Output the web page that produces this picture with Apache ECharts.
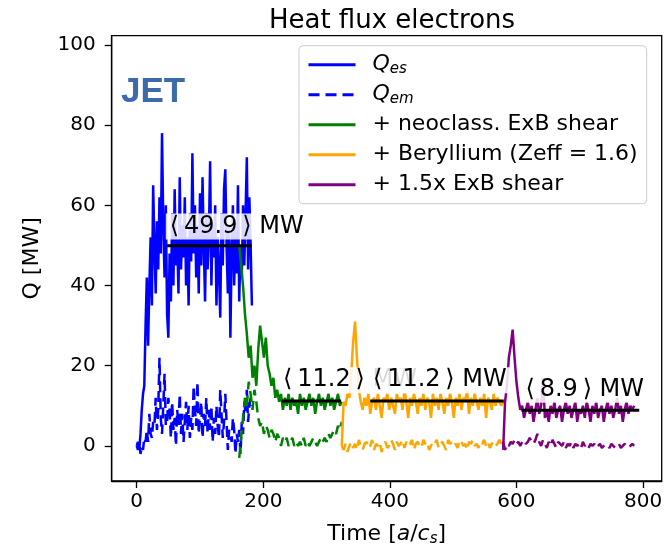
<!DOCTYPE html>
<html>
<head>
<meta charset="utf-8">
<script src="https://cdn.jsdelivr.net/npm/echarts@6/dist/echarts.min.js"></script>
<style>
  html, body { margin: 0; padding: 0; background: #fff; }
  #chart { width: 669px; height: 552px; }
</style>
</head>
<body>
<div id="chart"></div>
<script>
  // ticks
  const tickX = [0, 200, 400, 600, 800]
  const tickY = [0, 20, 40, 60, 80, 100]

  // blue run (t = 0 .. 182, every 2)
  const blueStart = 0, blueStep = 2
  const blueQes = [0, 1, -1, 3, 9, 13, 15, 30, 42, 25,
    40, 52, 35, 65, 50, 38, 56, 44, 62, 48,
    78, 55, 42, 60, 33, 27, 48, 36, 58, 40,
    64, 45, 52, 38, 67, 44, 55, 47, 62, 40,
    52, 35, 58, 46, 73, 48, 60, 42, 55, 38,
    63, 45, 67, 50, 36, 58, 44, 52, 71, 40,
    55, 47, 60, 35, 52, 44, 32, 58, 45, 64,
    69, 50, 38, 55, 27, 48, 60, 40, 54, 43,
    65, 36, 50, 42, 60, 45, 58, 72, 44, 62,
    50, 35]
  const blueQem = [0, -1, 1, -2, 0, -1, 2, 1, 4, 1,
    8, 3, 2, 6, 5, 12, 4, 9, 22, 7,
    3, 10, 18, 5, 6, 12, 9, 2, 11, 4,
    7, 0, 9, 5, 13, 3, 8, 1, 6, 11,
    4, 10, 2, 7, 4, 15, 9, 5, 16, 3,
    7, 11, 2, 8, 5, 12, 3, 9, 4, 10,
    1, 7, 3, 10, 5, 2, 14, 8, 2, 6,
    13, 6, -1, 4, 3, 1, 7, 4, -2, 3,
    1, 4, -2, 6, 3, 11, 8, 14, 6, 10,
    12, 10]

  // green run: + neoclass. ExB shear (t = 162 .. 324)
  const greenStart = 162, greenStep = 3
  const greenQes = [50, 45, 40, 33, 28, 22, 25, 17, 20, 15, 24, 30, 26, 22, 27, 20, 18, 15, 17, 12,
    14, 11, 13, 9, 12, 10, 13, 9, 12, 10, 11, 8, 13, 10, 12, 9, 11, 13, 10, 12,
    8, 11, 13, 10, 12, 9, 11, 13, 10, 12, 9, 11, 13, 10, 11]
  const greenQem = [-3, 2, 7, 12, 10, 16, 13, 9, 14, 11, 7, 5, 6, 3, 5, 4, 2, 4, 3, 1,
    3, 2, 0, 2, 1, 2, 0, 1, 2, 0, 1, 0, 1, 0, 2, 0, 1, 0, 1, 2,
    1, 0, 1, 2, 1, 2, 1, 3, 2, 3, 4, 3, 5, 4, 6]

  // orange run: + Beryllium (t = 324 .. 579)
  const orangeStart = 324, orangeStep = 3
  const orangeQes = [0, 11, 10, 13, 12, 18, 26, 31, 22, 14, 11, 9, 12, 10, 13, 8, 11, 12, 9, 13,
    10, 7, 12, 11, 13, 9, 12, 10, 8, 13, 11, 12, 9, 14, 11, 7, 12, 10, 13, 11,
    8, 12, 10, 13, 9, 12, 11, 7, 13, 10, 12, 9, 13, 11, 8, 12, 10, 13, 11, 7,
    12, 10, 13, 9, 12, 11, 14, 8, 12, 10, 13, 11, 9, 12, 10, 13, 7, 12, 11, 9,
    13, 10, 12, 11, 10, 11]
  const orangeQem = [0, -1, 0.5, -1.5, 0, 1, -0.5, 0.5, -1, 1.5, 0, -1, 0.5, 1, -0.5, 0, 1.5, -1, 0.5, 0,
    1, -1.5, 0.5, 1, -0.5, 0, 1.5, 0.5, -1, 1, 0, 0.5, 1.5, -0.5, 1, 0, 0.5, 1.5, -1, 0.5,
    1, 0, -0.5, 1.5, 0.5, 1, -1, 0, 1, 0.5, 1.5, -0.5, 0.5, 1, 0, -1, 1.5, 0.5, 1, 0,
    0.5, -0.5, 1.5, 1, 0, 0.5, -1, 1, 0.5, 1.5, 0, 0.5, -0.5, 1, 0.5, 1.5, 0, 1, -0.5, 0.5,
    1, 0, 0.5, 1.5, 0.5, 1]

  // purple run: + 1.5x ExB shear (t = 579 .. 786)
  const purpleStart = 579, purpleStep = 3
  const purpleQes = [-1, 11, 15, 22, 25, 29, 22, 16, 12, 9, 10, 7, 9, 11, 8, 10, 6, 9, 12, 8,
    10, 17, 7, 9, 6, 10, 8, 11, 7, 9, 10, 6, 9, 11, 8, 10, 7, 9, 11, 6,
    9, 8, 10, 7, 11, 9, 6, 10, 8, 11, 7, 9, 10, 6, 9, 11, 8, 10, 7, 9,
    12, 8, 10, 6, 9, 11, 8, 10, 9, 10]
  const purpleQem = [1, -1, 0.5, 0, 1, 0.5, 1.5, 0.5, 1, 0, 1, 1.5, 0.5, 1, 2, 1, 0.5, 1.5, 3, 1,
    0, 1.5, 0.5, -0.5, 1, 0, 1.5, 0.5, -0.5, 1, 0.5, 0, 1, -0.5, 0.5, 0, 1, -0.5, 0.5, 0,
    0.5, -0.5, 1, 0, 0.5, -0.5, 0.5, 0, 0.5, -0.5, 0, 0.5, -0.5, 0, 0.5, 0, -0.5, 0.5, 0, -0.5,
    0, 0.5, -0.5, 0, 0.5, 0, -0.5, 0, 0.5, 0]

  // time averages
  const meanFrom = [48, 229, 369, 608]
  const meanTo = [182, 323, 580, 794]
  const meanVal = [49.9, 11.2, 11.2, 8.9]
  const meanText = ['⟨\u200949.9\u2009⟩ MW', '⟨\u200911.2\u2009⟩ MW', '⟨\u200911.2\u2009⟩ MW', '⟨\u20098.9\u2009⟩ MW']
  const meanTextX = [46, 225, 367, 608]
  const meanTextY = [54.7, 16.4, 16.4, 14]

  const legendText = {
    'Qes': '{q|Q}{s|es}',
    'Qem': '{q|Q}{s|em}',
    'neo': '+ neoclass. ExB shear',
    'be': '+ Beryllium (Zeff = 1.6)',
    'exb': '+ 1.5x ExB shear'
  }

  const run = (start, step, vals) => vals.map((v, i) => [start + i * step, v])

  function flux(name, color, start, step, vals, dashed) {
    return {
      name: name,
      type: 'line',
      data: run(start, step, vals),
      symbol: 'none',
      silent: true,
      itemStyle: { color: color },
      lineStyle: { color: color, width: 2.5, type: dashed ? [11, 6] : 'solid' },
      z: 2
    }
  }

  const series = [
    flux('Qes', '#0000ff', blueStart, blueStep, blueQes, false),
    flux('Qem', '#0000ff', blueStart, blueStep, blueQem, true),
    flux('neo', '#008000', greenStart, greenStep, greenQes, false),
    flux('neo em', '#008000', greenStart, greenStep, greenQem, true),
    flux('be', '#ffa500', orangeStart, orangeStep, orangeQes, false),
    flux('be em', '#ffa500', orangeStart, orangeStep, orangeQem, true),
    flux('exb', '#800080', purpleStart, purpleStep, purpleQes, false),
    flux('exb em', '#800080', purpleStart, purpleStep, purpleQem, true)
  ]

  meanVal.forEach((v, i) => {
    series.push({
      name: 'mean' + i,
      type: 'line',
      data: [[meanFrom[i], v], [meanTo[i], v]],
      symbol: 'none',
      silent: true,
      lineStyle: { color: '#000', width: 3 },
      z: 3
    })
  })

  const jet = {
    type: 'text',
    left: 121,
    top: 75,
    style: { text: 'JET', fontSize: 35, fontWeight: 'bold', fontFamily: 'Liberation Sans', fill: '#3c6aaa' }
  }

  const chart = echarts.init(document.getElementById('chart'))
  chart.setOption({
    animation: false,
    textStyle: { fontFamily: 'DejaVu Sans' },
    title: {
      text: 'Heat flux electrons',
      left: 387,
      top: 3,
      textAlign: 'center',
      textStyle: { fontSize: 26, fontWeight: 'normal', color: '#000' }
    },
    grid: {
      left: 111.7, right: 7.3, top: 35.7, bottom: 64.7,
      show: true, borderColor: '#000', borderWidth: 1.3
    },
    legend: {
      data: ['Qes', 'Qem', 'neo', 'be', 'exb'],
      orient: 'vertical',
      left: 299,
      top: 45.7,
      padding: [7, 9, 7, 8],
      itemGap: 6,
      itemWidth: 47,
      itemHeight: 3,
      itemStyle: { opacity: 0 },
      lineStyle: { width: 3 },
      backgroundColor: 'rgba(255,255,255,0.8)',
      borderColor: '#cccccc',
      borderWidth: 1,
      borderRadius: 4,
      formatter: name => legendText[name],
      textStyle: {
        fontSize: 22,
        color: '#000',
        lineHeight: 24,
        padding: [0, 0, 0, 12],
        rich: {
          q: { fontSize: 22, fontStyle: 'italic', lineHeight: 24 },
          s: { fontSize: 15, fontStyle: 'italic', verticalAlign: 'bottom', lineHeight: 24 }
        }
      }
    },
    xAxis: {
      type: 'value',
      min: -39.5,
      max: 829.5,
      splitLine: { show: false },
      axisLine: { onZero: false, lineStyle: { color: '#000', width: 1.3 } },
      axisTick: { customValues: tickX, length: 7, lineStyle: { color: '#000', width: 1.3 } },
      axisLabel: { customValues: tickX, fontSize: 20, color: '#000', margin: 11 },
      name: '{r|Time [}{i|a}{r|/}{i|c}{s|s}{r|]}',
      nameLocation: 'middle',
      nameGap: 40,
      nameTextStyle: {
        fontSize: 22,
        color: '#000',
        rich: {
          r: { fontSize: 22, lineHeight: 26 },
          i: { fontSize: 22, fontStyle: 'italic', lineHeight: 26 },
          s: { fontSize: 15, fontStyle: 'italic', verticalAlign: 'bottom', lineHeight: 26 }
        }
      }
    },
    yAxis: {
      type: 'value',
      min: -8.75,
      max: 102.3,
      splitLine: { show: false },
      axisLine: { onZero: false, lineStyle: { color: '#000', width: 1.3 } },
      axisTick: { customValues: tickY, length: 7, lineStyle: { color: '#000', width: 1.3 } },
      axisLabel: { customValues: tickY, fontSize: 20, color: '#000', margin: 16 },
      name: 'Q [MW]',
      nameLocation: 'middle',
      nameGap: 68,
      nameRotate: 90,
      nameTextStyle: { fontSize: 22, color: '#000' }
    },
    graphic: [jet],
    series: series
  })

  // mean value texts, placed through the axes' own scales
  const texts = meanText.map((t, i) => {
    const p = chart.convertToPixel({ gridIndex: 0 }, [meanTextX[i], meanTextY[i]])
    return {
      type: 'text',
      x: p[0],
      y: p[1],
      z: 10,
      silent: true,
      style: {
        text: t,
        fontSize: 24,
        fontFamily: 'DejaVu Sans',
        fill: '#000',
        align: 'left',
        verticalAlign: 'middle',
        backgroundColor: 'rgba(255,255,255,0.85)',
        padding: [2, 4, 0, 4]
      }
    }
  })
  chart.setOption({ graphic: [jet].concat(texts) })
</script>
</body>
</html>
